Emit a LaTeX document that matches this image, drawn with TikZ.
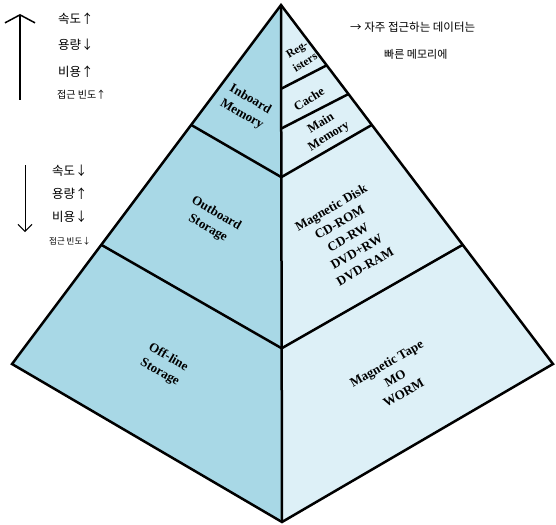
\documentclass[tikz,border=0pt]{standalone}
\usepackage{fontspec}
\setmainfont{Liberation Serif}
\newfontfamily\kor{Noto Sans CJK KR}
\usetikzlibrary{calc,arrows.meta}
\definecolor{facedark}{RGB}{168,216,230}
\definecolor{facelight}{RGB}{221,240,247}
\tikzset{
  label/.style={font=\bfseries\fontsize{13}{17}\selectfont, align=center, inner sep=0pt},
  note/.style={font=\kor\fontsize{12.5}{13}\selectfont, anchor=west, inner sep=0pt},
  edge/.style={line width=2.5pt, line join=miter}
}
\begin{document}
\begin{tikzpicture}[x=1pt, y=-1pt]
            \useasboundingbox (0,0) rectangle (556,524);

            \coordinate (apex) at (281,5);
            \coordinate (left) at (12,364);
            \coordinate (bottom) at (282,522);
            \coordinate (right) at (553,364);

            \fill[facedark] (apex) -- (left) -- (bottom) -- cycle;
            \fill[facelight] (apex) -- (bottom) -- (right) -- cycle;

            % level lines on the left face
            \coordinate (L1) at ($(apex)!0.334!(left)$);
            \coordinate (L2) at ($(apex)!0.668!(left)$);
            \coordinate (C1) at ($(apex)!0.333!(bottom)$);
            \coordinate (C2) at ($(apex)!0.664!(bottom)$);
            \draw[edge] (L1) -- (C1);
            \draw[edge] (L2) -- (C2);

            % level lines on the right face
            \coordinate (R1) at ($(apex)!0.334!(right)$);
            \coordinate (R2) at ($(apex)!0.668!(right)$);
            \draw[edge] (C1) -- (R1);
            \draw[edge] (C2) -- (R2);
            \coordinate (Ca) at ($(apex)!0.162!(bottom)$);
            \coordinate (Ra) at ($(apex)!0.168!(right)$);
            \coordinate (Cb) at ($(apex)!0.239!(bottom)$);
            \coordinate (Rb) at ($(apex)!0.248!(right)$);
            \draw[edge] (Ca) -- (Ra);
            \draw[edge] (Cb) -- (Rb);

            \draw[edge] (apex) -- (left) -- (bottom) -- (right) -- cycle;
            \draw[edge] (apex) -- (bottom);

            % left face labels
            \node[label, rotate=-30] (inboard) at (246,107) {Inboard\\Memory};
            \node[label, rotate=-30] (outboard) at (212,221) {Outboard\\Storage};
            \node[label, rotate=-30] (offline) at (164,365) {Off-line\\Storage};

            % right face labels
            \node[label, rotate=32, font=\bfseries\fontsize{11.5}{15}\selectfont] (regs) at (301,56) {Reg-\\isters};
            \node[label, rotate=32, font=\bfseries\fontsize{12.5}{14}\selectfont] (cache) at (309,99) {Cache};
            \node[label, rotate=32, font=\bfseries\fontsize{12.5}{15}\selectfont] (mainmem) at (325,130) {Main\\Memory};
            \node[label, rotate=30] (disk) at (348,237) {Magnetic Disk\\CD-ROM\\CD-RW\\DVD+RW\\DVD-RAM};
            \node[label, rotate=30] (tape) at (395,378) {Magnetic Tape\\MO\\WORM};

            % handwritten notes
            \coordinate (upfoot) at (20,100);
            \coordinate (uptip) at (20,14);
            \draw[line width=1.5pt, -{Straight Barb[length=8pt, width=30pt]}] (upfoot) -- (uptip);
            \coordinate (downtop) at (25,165);
            \coordinate (downtip) at (25,232);
            \draw[line width=1pt, -{Straight Barb[length=7pt, width=14pt]}] (downtop) -- (downtip);

            \node[note] (up1) at (58,19) {속도↑};
            \node[note] (up2) at (58,45) {용량↓};
            \node[note] (up3) at (58,72) {비용↑};
            \node[note, font=\kor\fontsize{10}{11}\selectfont] (up4) at (57,95) {접근 빈도↑};
            \node[note] (dn1) at (52,171) {속도↓};
            \node[note] (dn2) at (52,194) {용량↑};
            \node[note] (dn3) at (52,217) {비용↓};
            \node[note, font=\kor\fontsize{8.5}{10}\selectfont] (dn4) at (49,241) {접근 빈도↓};

            \node[note, font=\kor\fontsize{11.5}{12}\selectfont] (hint1) at (350,27) {→ 자주 접근하는 데이터는};
            \node[note, font=\kor\fontsize{11}{12}\selectfont] (hint2) at (384,54) {빠른 메모리에};
\end{tikzpicture}
\end{document}
